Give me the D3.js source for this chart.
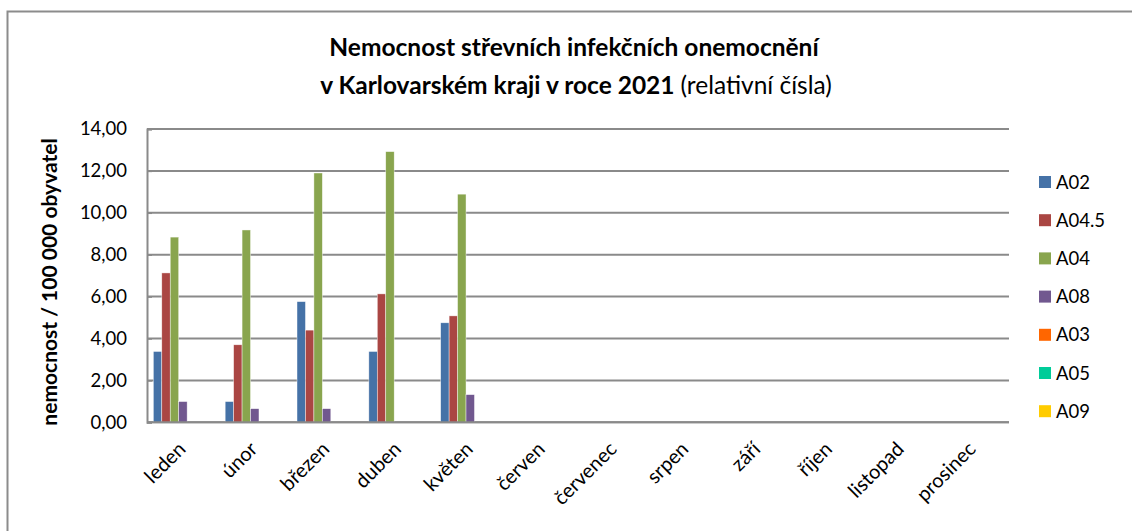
<!DOCTYPE html>
<html>
<head>
<meta charset="utf-8">
<script src="https://cdn.jsdelivr.net/npm/d3@7"></script>
<style>
  body { margin: 0; background: #fff; }
  svg { display: block; font-family: Lato, "Open Sans", sans-serif; }
</style>
</head>
<body>
<div id="chart"></div>
<script>
(function() {

    var months = ["leden", "únor", "březen", "duben", "květen", "červen",
                  "červenec", "srpen", "září", "říjen", "listopad", "prosinec"];
    var seriesNames = ["A02", "A04.5", "A04", "A08", "A03", "A05", "A09"];
    var seriesColors = ["#4572A7", "#AA4643", "#89A54E", "#71588F", "#FF6600", "#00CC99", "#FFCC00"];

    // values per series, months without reports stay null
    var a02  = [3.38, 0.99, 5.76, 3.38, 4.75, null, null, null, null, null, null, null];
    var a045 = [7.13, 3.70, 4.40, 6.13, 5.08, null, null, null, null, null, null, null];
    var a04  = [8.84, 9.18, 11.90, 12.92, 10.89, null, null, null, null, null, null, null];
    var a08  = [0.99, 0.65, 0.65, 0, 1.32, null, null, null, null, null, null, null];
    var a03  = [0, 0, 0, 0, 0, null, null, null, null, null, null, null];
    var a05  = [0, 0, 0, 0, 0, null, null, null, null, null, null, null];
    var a09  = [0, 0, 0, 0, 0, null, null, null, null, null, null, null];
    var yTicks = [0, 2, 4, 6, 8, 10, 12, 14];

    var allSeries = [a02, a045, a04, a08, a03, a05, a09];

    var width = 1132, height = 531;
    var margin = {top: 129, left: 147, right: 123, bottom: 108};

    var svg = d3.select("#chart")
        .append("svg")
        .attr("width", width)
        .attr("height", height);

    // chart frame (only top and left edge show in the crop)
    svg.append("path")
        .attr("d", "M7.5," + height + "V11.5H" + width)
        .attr("fill", "none")
        .attr("stroke", "#8c8c8c")
        .attr("stroke-width", 2);

    var x = d3.scaleBand()
        .domain(months)
        .range([margin.left, width - margin.right]);

    var inner = d3.scaleBand()
        .domain(seriesNames)
        .range([0, x.bandwidth()])
        .paddingInner(0)
        .paddingOuter(0.75);

    var y = d3.scaleLinear()
        .domain([0, 14])
        .range([height - margin.bottom - 0.7, margin.top]);

    // gridlines
    svg.append("g")
        .selectAll("line")
        .data(yTicks)
        .enter()
        .append("line")
        .attr("x1", margin.left)
        .attr("x2", width - margin.right)
        .attr("y1", function(d) { return y(d); })
        .attr("y2", function(d) { return y(d); })
        .attr("stroke", "#8a8a8a")
        .attr("stroke-width", 2);

    // y axis
    var yAxis = svg.append("g")
        .attr("transform", "translate(" + margin.left + ",0)")
        .call(d3.axisLeft(y)
            .tickValues(yTicks)
            .tickSize(-5)
            .tickPadding(20)
            .tickFormat(function(d) { return d3.format(".2f")(d).replace(".", ","); }));
    yAxis.select(".domain").attr("stroke", "#8a8a8a").attr("stroke-width", 2);
    yAxis.selectAll(".tick line").attr("stroke", "#8a8a8a").attr("stroke-width", 1.5);
    yAxis.selectAll(".tick text")
        .attr("font-size", 18.5)
        .attr("fill", "#000")
        .style("font-family", "Lato, sans-serif");

    // bars
    var groups = svg.append("g")
        .selectAll("g")
        .data(allSeries)
        .enter()
        .append("g")
        .attr("fill", function(d, i) { return seriesColors[i]; });

    groups.selectAll("rect")
        .data(function(d, i) {
            return d.map(function(v, j) { return {month: months[j], series: seriesNames[i], value: v}; })
                .filter(function(e) { return e.value !== null && e.value > 0; });
        })
        .enter()
        .append("rect")
        .attr("x", function(d) { return x(d.month) + inner(d.series); })
        .attr("width", inner.bandwidth())
        .attr("y", function(d) { return y(d.value); })
        .attr("height", function(d) { return y(0) - y(d.value); })
        .attr("stroke", "#fff")
        .attr("stroke-width", 0.6)
        .attr("stroke-opacity", 0.7);

    // x axis baseline on top of bars
    svg.append("line")
        .attr("x1", margin.left)
        .attr("x2", width - margin.right)
        .attr("y1", y(0))
        .attr("y2", y(0))
        .attr("stroke", "#8a8a8a")
        .attr("stroke-width", 2);

    // month labels
    svg.append("g")
        .selectAll("text")
        .data(months)
        .enter()
        .append("text")
        .attr("transform", function(d) {
            return "translate(" + (x(d) + x.bandwidth() / 2 + 4) + "," + (y(0) + 28) + ") rotate(-45)";
        })
        .attr("text-anchor", "end")
        .attr("font-size", 20)
        .attr("fill", "#000")
        .text(function(d) { return d; });

    // y axis title
    svg.append("text")
        .attr("transform", "translate(57,282) rotate(-90)")
        .attr("text-anchor", "middle")
        .attr("font-size", 21)
        .attr("font-weight", "bold")
        .text("nemocnost / 100 000 obyvatel");

    // title
    svg.append("text")
        .attr("x", 574)
        .attr("y", 56)
        .attr("text-anchor", "middle")
        .attr("font-size", 24.5)
        .attr("font-weight", "bold")
        .text("Nemocnost střevních infekčních onemocnění");

    var t2 = svg.append("text")
        .attr("x", 576)
        .attr("y", 94)
        .attr("text-anchor", "middle")
        .attr("font-size", 24.5);
    t2.append("tspan").attr("font-weight", "bold").text("v Karlovarském kraji v roce 2021 ");
    t2.append("tspan").text("(relativní čísla)");

    // legend
    var legend = svg.append("g")
        .selectAll("g")
        .data(seriesNames)
        .enter()
        .append("g")
        .attr("transform", function(d, i) { return "translate(1039," + (182 + i * 38.2) + ")"; });

    legend.append("rect")
        .attr("x", 0)
        .attr("y", -6)
        .attr("width", 12)
        .attr("height", 12)
        .attr("fill", function(d, i) { return seriesColors[i]; });

    legend.append("text")
        .attr("x", 17)
        .attr("y", 6.5)
        .attr("font-size", 18.5)
        .text(function(d) { return d; });

})();
</script>
</body>
</html>
